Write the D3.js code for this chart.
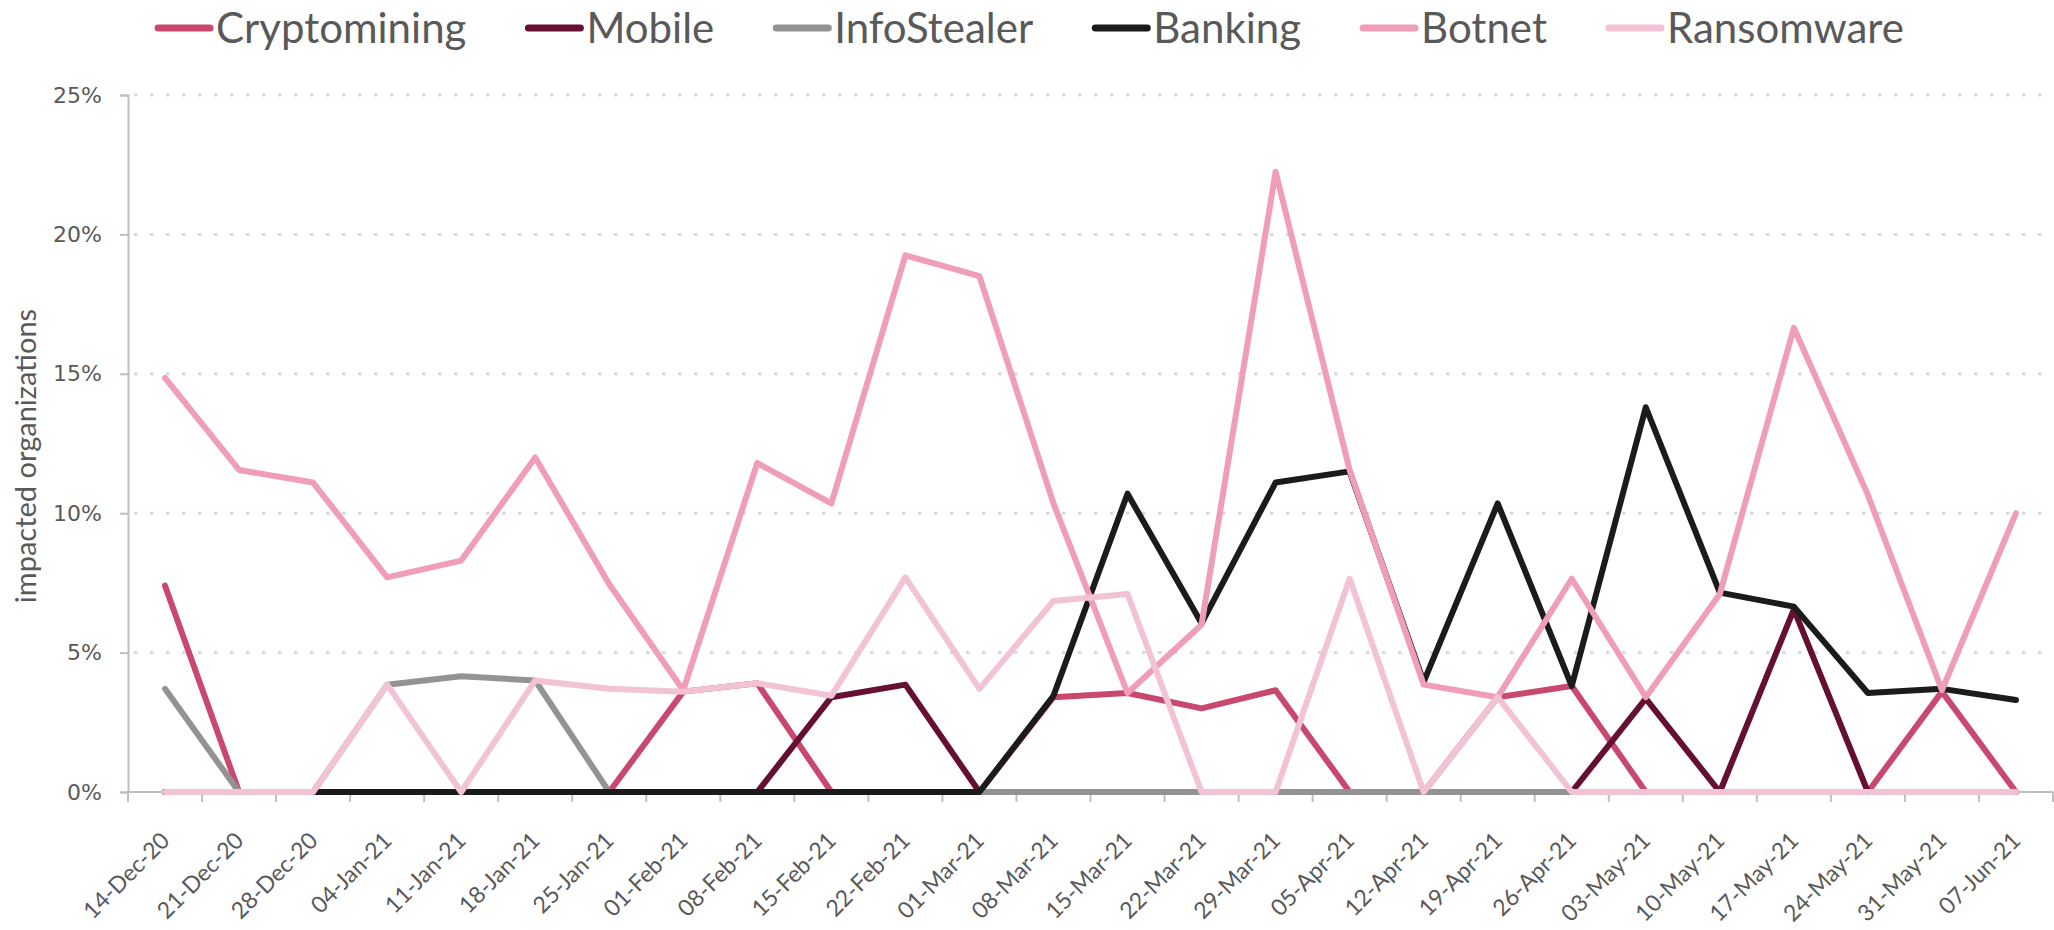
<!DOCTYPE html>
<html>
<head>
<meta charset="utf-8">
<script src="https://cdn.jsdelivr.net/npm/d3@7"></script>
<style>
  body { margin: 0; background: #fff; }
  svg { display: block; }
</style>
</head>
<body>
<svg id="chart"></svg>
<script>
// weekly share of impacted organizations (%)
const weeks = ["14-Dec-20", "21-Dec-20", "28-Dec-20", "04-Jan-21", "11-Jan-21", "18-Jan-21", "25-Jan-21",
  "01-Feb-21", "08-Feb-21", "15-Feb-21", "22-Feb-21", "01-Mar-21", "08-Mar-21", "15-Mar-21", "22-Mar-21",
  "29-Mar-21", "05-Apr-21", "12-Apr-21", "19-Apr-21", "26-Apr-21", "03-May-21", "10-May-21", "17-May-21",
  "24-May-21", "31-May-21", "07-Jun-21"];

const cryptomining = [7.4, 0, 0, 0, 0, 0, 0, 3.6, 3.9, 0, 0, 0, 3.4, 3.55, 3.0, 3.65, 0, 0, 3.4, 3.8, 0, 0, 0, 0, 3.6, 0];
const mobile = [0, 0, 0, 0, 0, 0, 0, 0, 0, 3.4, 3.85, 0, 0, 0, 0, 0, 0, 0, 0, 0, 3.35, 0, 6.55, 0, 0, 0];
const infoStealer = [3.7, 0, 0, 3.85, 4.15, 4.0, 0, 0, 0, 0, 0, 0, 0, 0, 0, 0, 0, 0, 0, 0, 0, 0, 0, 0, 0, 0];
const banking = [0, 0, 0, 0, 0, 0, 0, 0, 0, 0, 0, 0, 3.45, 10.7, 6.05, 11.1, 11.5, 3.95, 10.35, 3.8, 13.8, 7.15, 6.65, 3.55, 3.7, 3.3];
const botnet = [14.85, 11.55, 11.1, 7.7, 8.3, 12.0, 7.45, 3.65, 11.8, 10.35, 19.25, 18.5, 10.35, 3.55, 6.0, 22.25, 11.55, 3.85, 3.4, 7.65, 3.4, 7.1, 16.65, 10.65, 3.65, 10.0];
const ransomware = [0, 0, 0, 3.85, 0, 4.0, 3.7, 3.6, 3.9, 3.45, 7.7, 3.7, 6.85, 7.1, 0, 0, 7.65, 0, 3.4, 0, 0, 0, 0, 0, 0, 0];

const yTicks = [0, 5, 10, 15, 20, 25];

// drawing order = legend order (last one on top)
const series = [
  { name: "Cryptomining", values: cryptomining, color: "#c8486f" },
  { name: "Mobile", values: mobile, color: "#651033" },
  { name: "InfoStealer", values: infoStealer, color: "#939393" },
  { name: "Banking", values: banking, color: "#1b1b1b" },
  { name: "Botnet", values: botnet, color: "#ef9db8" },
  { name: "Ransomware", values: ransomware, color: "#f2c2d5" }
];

const width = 2054, height = 930;
const margin = { top: 95, right: 1, bottom: 138, left: 128 };

const svg = d3.select("#chart")
  .attr("width", width)
  .attr("height", height)
  .attr("viewBox", `0 0 ${width} ${height}`);

const x = d3.scalePoint()
  .domain(weeks)
  .range([margin.left, width - margin.right])
  .padding(0.5);

const y = d3.scaleLinear()
  .domain([0, 25])
  .range([height - margin.bottom, margin.top]);

const textColor = "#595959";
const axisColor = "#bfbfbf";

// dotted gridlines
svg.append("g")
  .selectAll("line")
  .data(yTicks.filter(d => d > 0))
  .join("line")
  .attr("x1", margin.left + 6)
  .attr("x2", width - margin.right)
  .attr("y1", d => y(d))
  .attr("y2", d => y(d))
  .attr("stroke", "#d9d9d9")
  .attr("stroke-width", 3)
  .attr("stroke-dasharray", "3.5 12.5");

// y axis
const yAxis = svg.append("g")
  .attr("transform", `translate(${margin.left},0)`)
  .call(d3.axisLeft(y).tickValues(yTicks).tickFormat(d => d + "%").tickSize(8).tickPadding(18));
yAxis.select(".domain").attr("stroke", axisColor).attr("stroke-width", 2);
yAxis.selectAll(".tick line").attr("stroke", axisColor).attr("stroke-width", 2);
yAxis.selectAll(".tick text")
  .attr("fill", textColor)
  .attr("font-family", "DejaVu Sans")
  .attr("font-size", 22);

// x axis: ticks sit on the band edges, labels at the points
const step = x.step();
const edges = d3.range(weeks.length + 1).map(i => margin.left + i * step);
const xAxis = svg.append("g");
xAxis.append("line")
  .attr("x1", margin.left)
  .attr("x2", width - margin.right)
  .attr("y1", y(0))
  .attr("y2", y(0))
  .attr("stroke", axisColor)
  .attr("stroke-width", 2);
xAxis.selectAll("line.tick")
  .data(edges)
  .join("line")
  .attr("class", "tick")
  .attr("x1", d => d)
  .attr("x2", d => d)
  .attr("y1", y(0))
  .attr("y2", y(0) + 10)
  .attr("stroke", axisColor)
  .attr("stroke-width", 2);
xAxis.selectAll("text")
  .data(weeks)
  .join("text")
  .attr("transform", d => `translate(${x(d) + 6},${y(0) + 50}) rotate(-45)`)
  .attr("text-anchor", "end")
  .attr("fill", textColor)
  .attr("font-family", "Lato")
  .attr("font-size", 23)
  .text(d => d);

// y label
svg.append("text")
  .attr("transform", "translate(36,456) rotate(-90)")
  .attr("text-anchor", "middle")
  .attr("fill", textColor)
  .attr("font-family", "Lato")
  .attr("font-size", 29)
  .text("impacted organizations");

// lines
const line = d3.line()
  .x((d, i) => x(weeks[i]))
  .y(d => y(d));

svg.append("g")
  .selectAll("path")
  .data(series)
  .join("path")
  .attr("d", d => line(d.values))
  .attr("fill", "none")
  .attr("stroke", d => d.color)
  .attr("stroke-width", 6)
  .attr("stroke-linejoin", "round")
  .attr("stroke-linecap", "round");

// legend, centred across the top
const legend = svg.append("g").attr("transform", "translate(0,28)");
const items = legend.selectAll("g")
  .data(series)
  .join("g");
items.append("line")
  .attr("x1", 0)
  .attr("x2", 52)
  .attr("stroke", d => d.color)
  .attr("stroke-width", 7)
  .attr("stroke-linecap", "round");
items.append("text")
  .attr("x", 58)
  .attr("y", 15)
  .attr("fill", textColor)
  .attr("font-family", "Lato")
  .attr("font-size", 42)
  .text(d => d.name);

const gap = 62;
let pos = 0;
const offsets = [];
items.each(function () {
  offsets.push(pos);
  pos += 58 + this.querySelector("text").getComputedTextLength() + gap;
});
const total = pos - gap;
const start = (width - total) / 2 + 4;
items.attr("transform", (d, i) => `translate(${start + offsets[i]},0)`);
</script>
</body>
</html>
